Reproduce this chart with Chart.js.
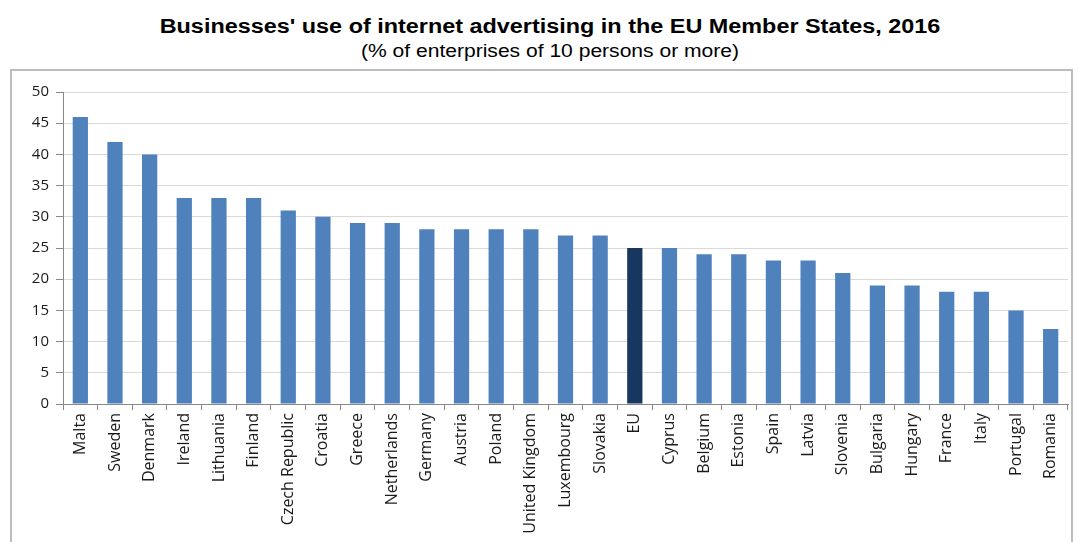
<!DOCTYPE html>
<html lang="en">
<head>
  <meta charset="UTF-8" />
  <title>Businesses' use of internet advertising</title>
  <script src="https://cdn.jsdelivr.net/npm/chart.js"></script>
  <style>
    body { margin: 0; width: 1078px; height: 542px; background: #fff; overflow: hidden; position: relative; }
    .title { position: absolute; left: 0; width: 1100px; top: 15px; text-align: center;
      font: bold 20px "Liberation Sans", Arial, sans-serif; color: #000; transform: scaleX(1.17); }
    .subtitle { position: absolute; left: 0; width: 1100px; top: 41px; text-align: center;
      font: 18px "Liberation Sans", Arial, sans-serif; color: #000; transform: scaleX(1.17); }
    .box { position: absolute; left: 10px; top: 69px; width: 1063px; height: 480px;
      border: 2px solid #bcbcbc; box-sizing: border-box; }
    #wrap { position: absolute; left: 11px; top: 70px; width: 1062px; height: 472px; }
  </style>
</head>
<body>
  <div class="title">Businesses' use of internet advertising in the EU Member States, 2016</div>
  <div class="subtitle">(% of enterprises of 10 persons or more)</div>
  <div class="box"></div>
  <div id="wrap"><canvas id="chart"></canvas></div>

  <script>
    const countries = ['Malta', 'Sweden', 'Denmark', 'Ireland', 'Lithuania', 'Finland', 'Czech Republic',
      'Croatia', 'Greece', 'Netherlands', 'Germany', 'Austria', 'Poland', 'United Kingdom', 'Luxembourg',
      'Slovakia', 'EU', 'Cyprus', 'Belgium', 'Estonia', 'Spain', 'Latvia', 'Slovenia', 'Bulgaria',
      'Hungary', 'France', 'Italy', 'Portugal', 'Romania'];
    const shares = [46, 42, 40, 33, 33, 33, 31, 30, 29, 29, 28, 28, 28, 28, 27, 27, 25, 25, 24, 24,
      23, 23, 21, 19, 19, 18, 18, 15, 12];
    const yMin = 0, yMax = 50, yStep = 5;

    const barColors = countries.map(c => c === 'EU' ? '#17375e' : '#4f81bd');

    new Chart(document.getElementById('chart'), {
      type: 'bar',
      data: {
        labels: countries,
        datasets: [{
          data: shares,
          backgroundColor: barColors,
          borderWidth: 0,
          categoryPercentage: 1,
          barPercentage: 0.44
        }]
      },
      options: {
        responsive: true,
        maintainAspectRatio: false,
        animation: false,
        layout: { padding: { top: 22, right: 5, left: 0, bottom: 0 } },
        plugins: { legend: { display: false }, tooltip: { enabled: false } },
        scales: {
          x: {
            grid: { drawOnChartArea: false, drawTicks: true, tickLength: 6, tickColor: '#888' },
            border: { color: '#888', width: 1 },
            ticks: { color: '#1a1a1a', font: { family: '"Open Sans", sans-serif', size: 16 },
              minRotation: 90, maxRotation: 90, padding: 3, autoSkip: false },
            afterFit: s => { s.height = 138; }
          },
          y: {
            min: yMin, max: yMax,
            grid: { color: '#d9d9d9', tickLength: 7, tickColor: '#888' },
            border: { color: '#888', width: 1 },
            ticks: { stepSize: yStep, color: '#1a1a1a', font: { family: '"Open Sans", sans-serif', size: 15 }, padding: 7 },
            afterFit: s => { s.width = 52; }
          }
        }
      }
    });
  </script>
</body>
</html>
